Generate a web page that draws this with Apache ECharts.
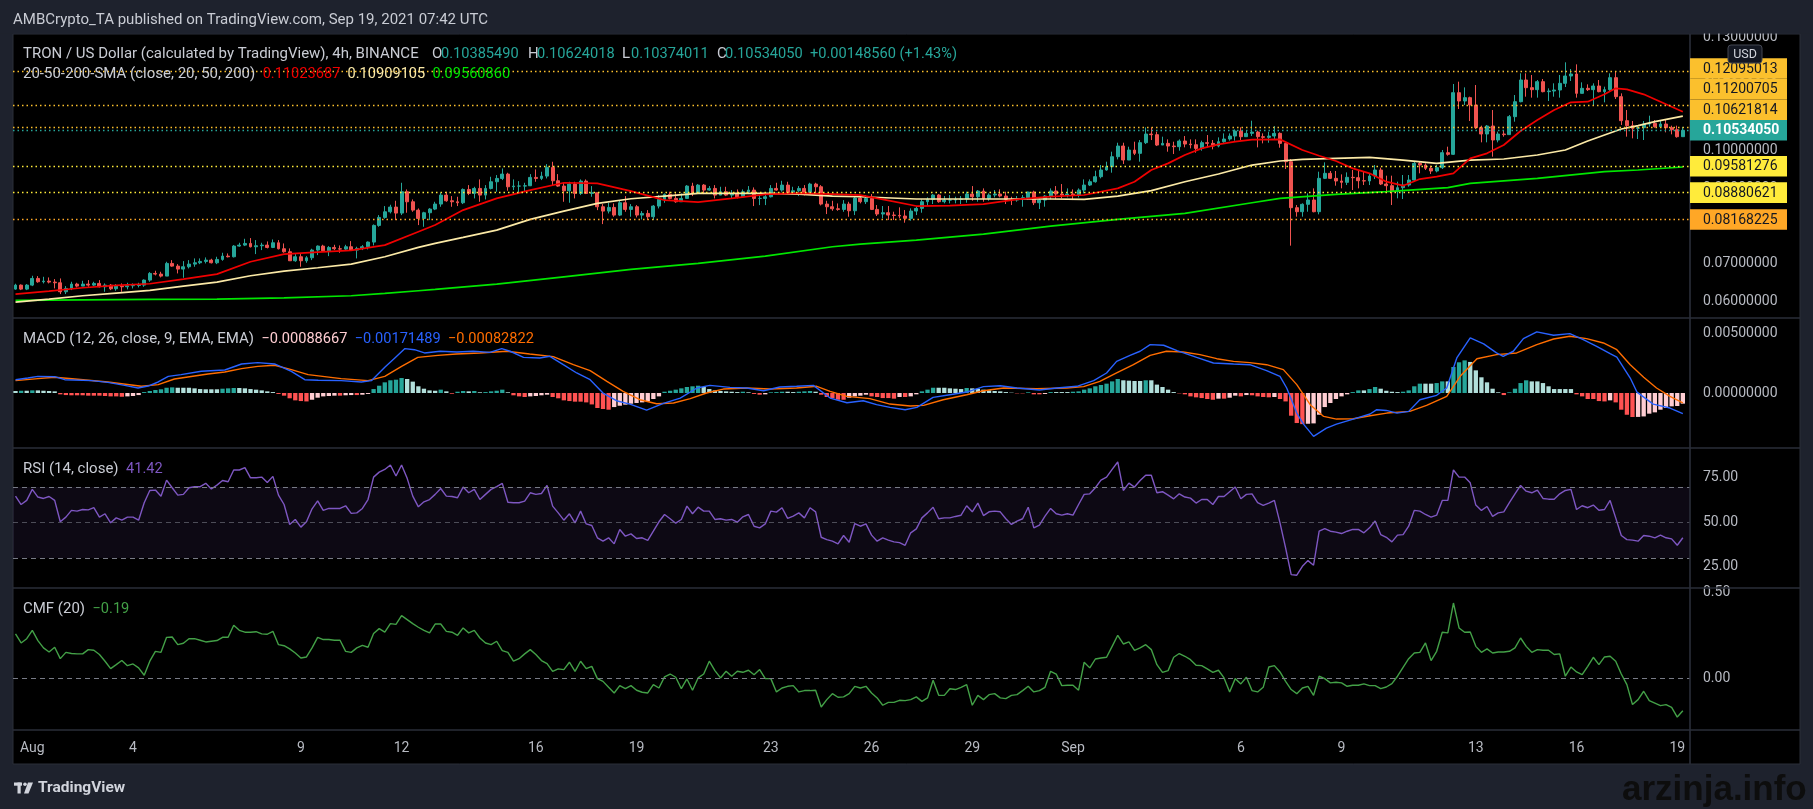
<!DOCTYPE html>
<html><head><meta charset="utf-8">
<script src="https://cdn.jsdelivr.net/npm/echarts@6/dist/echarts.min.js"></script>
<style>html,body{margin:0;padding:0;background:#1e222d;}#c{width:1813px;height:809px;}</style>
</head><body><div id="c"></div>
<script>
// ---------- DATA (4h candles, index 0 = Jul 31 12:00 UTC, index 298 = Sep 19 04:00 UTC) ----------
const firstOpen = 0.06323;
const closes = [
0.06429,0.06323,0.06429,0.06606,0.06518,0.06535,0.06509,0.06491,0.06253,0.06341,
0.06456,0.06403,0.06456,0.06429,0.06474,0.06385,0.06429,0.06332,0.06403,0.06385,
0.06412,0.06421,0.06429,0.06562,0.06739,0.06721,0.06668,0.07004,0.06933,0.06854,
0.06916,0.06986,0.07022,0.07057,0.07092,0.07022,0.07110,0.07198,0.07181,0.07464,
0.07490,0.07534,0.07446,0.07473,0.07490,0.07428,0.07552,0.07393,0.07313,0.07075,
0.07181,0.07075,0.07154,0.07358,0.07464,0.07340,0.07428,0.07393,0.07384,0.07446,
0.07358,0.07402,0.07446,0.07570,0.08012,0.08224,0.08374,0.08498,0.08339,0.08905,
0.08639,0.08418,0.08197,0.08348,0.08445,0.08578,
0.08816,0.08666,0.08639,0.08613,0.08966,0.08860,0.08993,0.08816,0.08993,0.09170,
0.09258,0.09373,0.09037,0.09055,0.09055,0.09064,0.09285,0.09258,0.09320,0.09550,
0.09196,0.09055,0.08931,0.09108,0.08860,0.09187,0.08860,0.08878,0.08507,0.08392,
0.08489,0.08286,0.08613,0.08436,0.08507,0.08286,0.08330,0.08242,0.08525,0.08701,
0.08834,0.08728,0.08639,0.08728,0.09055,0.08860,0.09081,0.08949,0.08993,0.08816,
0.08905,0.08816,0.08860,0.08772,0.08905,0.08949,0.08728,0.08728,0.08772,0.08993,
0.08949,0.09081,0.08878,0.08931,0.08993,0.08878,0.09108,0.09037,0.08578,0.08507,
0.08454,0.08436,0.08578,0.08401,0.08737,
0.08641,0.08729,0.08437,0.08314,0.08349,0.08287,0.08278,0.08261,0.08199,0.08393,
0.08464,0.08641,0.08703,0.08818,0.08641,0.08685,0.08685,0.08703,0.08712,0.08844,
0.08773,0.08924,0.08729,0.08818,0.08844,0.08791,0.08703,0.08685,0.08712,0.08747,
0.08897,0.08614,0.08685,0.08791,0.08924,0.08844,0.08818,0.08844,0.08818,0.08950,
0.09083,0.09171,0.09304,0.09481,0.09569,0.09834,0.10117,0.09746,0.10011,0.09923,
0.10206,0.10435,0.10418,0.10143,0.10188,0.10117,0.10100,0.10250,0.10170,0.10152,
0.10055,0.10206,0.10188,0.10117,0.10232,0.10303,0.10382,0.10515,0.10365,0.10453,
0.10488,0.10365,0.10347,0.10382,0.10453,
0.10188,0.09702,0.08482,0.08376,0.08571,0.08686,0.08376,0.09260,0.09393,
0.09260,0.09190,0.09154,0.09287,0.09278,0.09198,0.09190,0.09322,0.09481,0.09110,
0.09066,0.08907,0.09013,0.09083,0.09216,0.09658,0.09614,0.09525,0.09455,0.09543,
0.09941,0.09897,0.11532,0.11311,0.11400,0.11205,0.10604,0.10436,0.10648,0.10277,
0.10436,0.10420,0.10896,0.11293,0.11868,0.11665,0.11612,0.11824,0.11559,0.11576,
0.11603,0.11780,0.11974,0.12027,0.11514,0.11647,0.11612,0.11709,0.11559,0.11612,
0.11930,0.11426,0.10790,0.10657,0.10586,0.10604,0.10701,0.10719,0.10630,0.10701,
0.10604,0.10551,0.10365,0.10534050
];
const highs = [
0.06465,0.06447,0.06456,0.06677,0.06668,0.06650,0.06633,0.06589,0.06606,0.06403,
0.06518,0.06491,0.06544,0.06562,0.06518,0.06562,0.06474,0.06456,0.06456,0.06474,
0.06491,0.06474,0.06491,0.06580,0.06774,0.06810,0.06783,0.07048,0.07092,0.06986,
0.07066,0.07092,0.07137,0.07137,0.07163,0.07128,0.07181,0.07287,0.07269,0.07490,
0.07552,0.07658,0.07676,0.07623,0.07552,0.07587,0.07640,0.07623,0.07534,0.07402,
0.07252,0.07252,0.07198,0.07393,0.07481,0.07499,0.07464,0.07499,0.07481,0.07499,
0.07596,0.07446,0.07490,0.07587,0.08038,0.08286,0.08525,0.08560,0.08666,0.09143,
0.08966,0.08701,0.08463,0.08374,0.08471,0.08639,
0.08878,0.08905,0.08790,0.08772,0.08993,0.09081,0.09037,0.09232,0.09081,0.09302,
0.09347,0.09523,0.09408,0.09232,0.09187,0.09143,0.09373,0.09497,0.09435,0.09638,
0.09700,0.09373,0.09143,0.09170,0.09170,0.09232,0.09232,0.09055,0.08878,0.08578,
0.08613,0.08595,0.08666,0.08790,0.08578,0.08551,0.08392,0.08418,0.08551,0.08816,
0.08860,0.08905,0.08860,0.08860,0.09081,0.09143,0.09108,0.09108,0.09055,0.09081,
0.09037,0.09037,0.08949,0.08966,0.08966,0.09055,0.09020,0.08816,0.08843,0.09081,
0.09143,0.09196,0.09170,0.09037,0.09055,0.09081,0.09143,0.09143,0.09081,0.08666,
0.08666,0.08595,0.08684,0.08639,0.08772,
0.08818,0.08818,0.08844,0.08552,0.08526,0.08526,0.08376,0.08491,0.08420,0.08464,
0.08526,0.08703,0.08756,0.08844,0.08844,0.08791,0.08818,0.08773,0.08791,0.08906,
0.09056,0.08950,0.08994,0.08862,0.08950,0.08968,0.08906,0.08773,0.08791,0.08818,
0.08906,0.08933,0.08729,0.08818,0.08994,0.09056,0.09109,0.08994,0.08968,0.08994,
0.09233,0.09233,0.09463,0.09613,0.09702,0.09967,0.10205,0.10205,0.10099,0.10232,
0.10276,0.10612,0.10612,0.10497,0.10365,0.10294,0.10232,0.10294,0.10382,0.10294,
0.10294,0.10259,0.10409,0.10276,0.10347,0.10453,0.10453,0.10559,0.10612,0.10524,
0.10789,0.10524,0.10453,0.10497,0.10647,
0.10480,0.10215,0.09773,0.08553,0.08597,0.08862,0.08995,0.09437,0.09685,
0.09455,0.09455,0.09366,0.09419,0.09481,0.09481,0.09455,0.09393,0.09614,0.09543,
0.09331,0.09331,0.09172,0.09349,0.09349,0.09720,0.09720,0.09658,0.09596,0.09614,
0.10012,0.10100,0.11762,0.11824,0.11673,0.11426,0.11735,0.10657,0.10675,0.11072,
0.10498,0.10542,0.10940,0.11470,0.12045,0.12045,0.12001,0.11868,0.11895,0.11647,
0.11780,0.12001,0.12337,0.12160,0.12283,0.11806,0.11753,0.11780,0.11868,0.11691,
0.12045,0.12107,0.11514,0.11072,0.10781,0.10675,0.10781,0.10922,0.10807,0.10807,
0.10807,0.10657,0.10657,0.10624018
];
const lows = [
0.06306,0.06297,0.06297,0.06403,0.06491,0.06474,0.06474,0.06341,0.06191,0.06191,
0.06297,0.06368,0.06403,0.06385,0.06403,0.06368,0.06253,0.06297,0.06279,0.06253,
0.06315,0.06341,0.06368,0.06385,0.06518,0.06686,0.06633,0.06695,0.06916,0.06739,
0.06624,0.06871,0.06916,0.06986,0.07004,0.07004,0.06986,0.07075,0.07163,0.07163,
0.07446,0.07464,0.07428,0.07252,0.07358,0.07402,0.07411,0.07375,0.07287,0.07075,
0.07048,0.06916,0.07022,0.07092,0.07225,0.07313,0.07198,0.07358,0.07287,0.07358,
0.07340,0.07137,0.07358,0.07375,0.07481,0.07976,0.08189,0.08330,0.08153,0.08286,
0.08348,0.08374,0.08021,0.07976,0.08153,0.08418,
0.08507,0.08639,0.08507,0.08525,0.08578,0.08816,0.08728,0.08639,0.08701,0.08966,
0.08905,0.09214,0.08931,0.08949,0.08878,0.08905,0.09055,0.09170,0.09214,0.09258,
0.09081,0.09037,0.08639,0.08613,0.08728,0.08816,0.08843,0.08772,0.08418,0.08047,
0.08330,0.08242,0.08259,0.08374,0.08242,0.08224,0.08171,0.08153,0.08153,0.08463,
0.08613,0.08701,0.08613,0.08639,0.08728,0.08790,0.08905,0.08843,0.08931,0.08728,
0.08816,0.08790,0.08728,0.08728,0.08790,0.08843,0.08525,0.08551,0.08551,0.08754,
0.08931,0.08905,0.08860,0.08843,0.08790,0.08807,0.08878,0.08878,0.08542,0.08313,
0.08401,0.08401,0.08374,0.08242,0.08286,
0.08597,0.08579,0.08420,0.08261,0.08199,0.08155,0.08155,0.08199,0.08084,0.08137,
0.08287,0.08349,0.08526,0.08579,0.08614,0.08597,0.08597,0.08597,0.08579,0.08614,
0.08667,0.08641,0.08641,0.08667,0.08756,0.08756,0.08579,0.08552,0.08641,0.08508,
0.08685,0.08552,0.08446,0.08508,0.08703,0.08703,0.08729,0.08756,0.08685,0.08756,
0.08862,0.09056,0.09145,0.09260,0.09463,0.09410,0.09763,0.09640,0.09746,0.09878,
0.09702,0.10170,0.10276,0.10117,0.10144,0.09967,0.09905,0.09993,0.10082,0.10055,
0.09940,0.09993,0.10082,0.10029,0.10082,0.10205,0.10259,0.10259,0.10276,0.10365,
0.10382,0.10082,0.10188,0.10205,0.10294,
0.10073,0.09508,0.07475,0.08244,0.08244,0.08376,0.08359,0.08306,0.09242,
0.09242,0.09066,0.08995,0.09083,0.08951,0.08995,0.09083,0.09083,0.09242,0.09083,
0.08889,0.08553,0.08730,0.08712,0.09039,0.09172,0.09393,0.09481,0.09375,0.09419,
0.09508,0.09861,0.09879,0.11099,0.11205,0.10781,0.10569,0.10215,0.10215,0.09835,
0.10215,0.10365,0.10409,0.10763,0.11276,0.11426,0.11400,0.11400,0.11541,0.11311,
0.11426,0.11400,0.11682,0.11842,0.11400,0.11541,0.11576,0.11187,0.11541,0.11276,
0.11576,0.11364,0.10675,0.10365,0.10321,0.10303,0.10277,0.10630,0.10604,0.10604,
0.10480,0.10427,0.10339,0.10374011
];
// moving averages, read at sampled candle indices: [index, value]
const sma20 = [[0,0.06191],[6,0.06270],[12,0.06359],[18,0.06421],[24,0.06465],[30,0.06589],[36,0.06721],[42,0.07048],[48,0.07252],[54,0.07305],[60,0.07349],[66,0.07490],[72,0.07844],[75,0.08021],[80,0.08418],[86,0.08728],[92,0.08949],[98,0.09143],[104,0.09126],[110,0.08922],[116,0.08684],[122,0.08631],[128,0.08728],[134,0.08834],[140,0.08869],[146,0.08843],[151,0.08816],[155,0.08703],[161,0.08526],[167,0.08535],[173,0.08579],[179,0.08703],[185,0.08773],[191,0.08818],[197,0.08994],[200,0.09171],[203,0.09481],[206,0.09657],[209,0.09878],[212,0.10055],[215,0.10161],[218,0.10232],[221,0.10285],[226,0.10294],[230,0.10012],[233,0.09861],[236,0.09720],[239,0.09525],[242,0.09393],[245,0.09172],[248,0.09066],[251,0.09242],[254,0.09304],[257,0.09393],[260,0.09791],[263,0.09923],[266,0.10144],[269,0.10516],[272,0.10807],[275,0.11072],[278,0.11276],[281,0.11293],[284,0.11488],[286,0.11647],[288,0.11620],[291,0.11488],[295,0.11223],[298,0.11023687]];
const sma50 = [[0,0.05979],[6,0.06058],[12,0.06147],[18,0.06217],[24,0.06288],[30,0.06403],[36,0.06509],[42,0.06677],[48,0.06801],[54,0.06889],[60,0.06986],[66,0.07181],[72,0.07428],[75,0.07534],[80,0.07694],[86,0.07888],[92,0.08171],[98,0.08392],[104,0.08595],[110,0.08719],[116,0.08790],[122,0.08860],[128,0.08860],[134,0.08860],[140,0.08843],[146,0.08790],[151,0.08772],[161,0.08712],[173,0.08712],[185,0.08712],[191,0.08703],[197,0.08791],[203,0.08933],[209,0.09171],[215,0.09375],[221,0.09613],[226,0.09720],[230,0.09764],[236,0.09791],[242,0.09817],[248,0.09746],[254,0.09658],[260,0.09746],[266,0.09773],[272,0.09879],[277,0.10012],[281,0.10250],[284,0.10409],[287,0.10569],[290,0.10657],[293,0.10763],[298,0.10909105]];
const sma200 = [[0,0.06023],[12,0.06040],[24,0.06049],[36,0.06058],[48,0.06093],[60,0.06147],[66,0.06208],[72,0.06279],[75,0.06315],[86,0.06456],[98,0.06650],[110,0.06845],[122,0.07004],[134,0.07198],[146,0.07446],[151,0.07517],[161,0.07624],[173,0.07783],[185,0.07995],[197,0.08172],[209,0.08331],[221,0.08614],[226,0.08729],[236,0.08836],[245,0.08907],[256,0.09013],[260,0.09127],[272,0.09260],[284,0.09437],[290,0.09481],[298,0.09560860]];
// MACD (12,26,9): lines read at sampled indices, histogram per candle
const macdLine = [[0,0.00111],[2.2,0.00125],[4,0.00139],[7,0.00136],[8.8,0.00111],[13.6,0.00103],[16.5,0.00089],[19.5,0.00064],[21.9,0.00042],[23.7,0.00058],[25.5,0.00092],[27.3,0.00139],[29.6,0.00153],[33.2,0.00181],[37.4,0.00192],[40.4,0.00242],[43.3,0.00253],[46.3,0.00242],[49.3,0.00181],[51.7,0.00111],[54.1,0.00106],[58.2,0.00103],[61.8,0.00092],[63.6,0.00103],[66,0.00214],[67.8,0.00292],[69.6,0.00370],[71.3,0.00361],[73.1,0.00334],[75.9,0.00348],[78.9,0.00342],[81.8,0.00348],[84.8,0.00339],[86.9,0.00370],[88.4,0.00348],[90.8,0.00297],[93.7,0.00292],[95.5,0.00306],[97.9,0.00236],[100.3,0.00167],[102.7,0.00111],[105,0],[107.4,-0.00064],[109.8,-0.00092],[112.8,-0.00142],[115.8,-0.00086],[118.8,-0.00042],[121.8,0.00042],[124.1,0.00064],[127.7,0.00047],[130.7,0.00042],[133.7,0.00019],[136.6,0.00050],[139.6,0.00056],[142.6,0.00064],[145.6,-0.00042],[148.6,-0.00081],[151.5,-0.00064],[153.9,-0.00097],[156.3,-0.00120],[159,-0.00139],[161.1,-0.00120],[164,-0.00036],[167,-0.00014],[170,0.00008],[173,0.00053],[176,0.00061],[179,0.00042],[183,0.00025],[186.1,0.00042],[189.7,0.00056],[192.7,0.00103],[195,0.00167],[196.8,0.00264],[199.2,0.00314],[201,0.00348],[202.8,0.00403],[205.2,0.00398],[207.6,0.00353],[211.1,0.00297],[214.1,0.00250],[217.7,0.00242],[220.6,0.00236],[223.6,0.00186],[226,0.00139],[227.2,0.00042],[229,-0.00167],[230.2,-0.00259],[232,-0.00361],[234.3,-0.00292],[236.1,-0.00259],[239.1,-0.00217],[242.1,-0.00175],[243.3,-0.00139],[245,-0.00145],[246.9,-0.00167],[249,-0.00153],[251,-0.00056],[254,-0.00019],[255.8,0.00042],[257.6,0.00292],[260,0.00459],[262.4,0.00409],[264.7,0.00334],[265.9,0.00306],[267.7,0.00348],[269.5,0.00453],[271.9,0.00509],[274.9,0.00481],[277.8,0.00495],[280.2,0.00445],[282.6,0.00389],[285,0.00328],[286.2,0.00300],[288.6,0.00125],[289.8,0.00008],[292.7,-0.00092],[295.7,-0.00125],[298,-0.00171489]];
const signalLine = [[0,0.00103],[4,0.00120],[7,0.00131],[10.6,0.00117],[16.5,0.00092],[22.5,0.00056],[25.5,0.00070],[28.4,0.00117],[34.4,0.00158],[37.4,0.00175],[40.4,0.00203],[43.3,0.00222],[46.3,0.00231],[49.3,0.00195],[52.3,0.00153],[58.2,0.00120],[63,0.00103],[66,0.00139],[69,0.00222],[71.9,0.00297],[75.5,0.00314],[78.8,0.00325],[83,0.00334],[87.8,0.00348],[91.9,0.00325],[96.1,0.00303],[99.7,0.00236],[102.7,0.00186],[105.7,0.00097],[108.6,0.00014],[111.6,-0.00056],[114.6,-0.00089],[117.6,-0.00083],[120.6,-0.00047],[123.5,0],[126.5,0.00033],[130.7,0.00042],[134.8,0.00033],[139.6,0.00042],[143.2,0.00056],[145.6,0.00014],[148.6,-0.00028],[152.7,-0.00047],[156.3,-0.00092],[159.9,-0.00108],[162.3,-0.00103],[165.8,-0.00056],[170,-0.00014],[173,0.00019],[176.6,0.00042],[182.5,0.00036],[187.9,0.00042],[190.9,0.00053],[193.8,0.00097],[196.8,0.00167],[199.8,0.00236],[202.8,0.00314],[205.7,0.00348],[208.7,0.00342],[211.7,0.00320],[214.7,0.00286],[217.7,0.00264],[220.6,0.00253],[223.6,0.00236],[226.6,0.00195],[229,0.00070],[231.4,-0.00097],[233.8,-0.00195],[236.1,-0.00217],[239.1,-0.00214],[242.1,-0.00189],[245.1,-0.00167],[249.2,-0.00153],[252.2,-0.00103],[255.8,-0.00028],[258.2,0.00139],[261.2,0.00286],[264.7,0.00320],[268.3,0.00334],[271.9,0.00403],[274.9,0.00450],[277.8,0.00473],[280.8,0.00453],[283.8,0.00417],[286.2,0.00361],[288.6,0.00236],[291,0.00131],[293.3,0.00042],[295.7,-0.00028],[298,-0.00082822]];
const macdHist = [
0.00017,0.00019,0.00019,0.00022,0.00022,0.00019,0.00017,0.00014,
-0.00011,-0.00017,-0.00019,-0.00019,-0.00019,-0.00022,-0.00022,-0.00022,-0.00025,-0.00028,-0.00028,-0.00031,-0.00028,-0.00025,-0.00017,
0.00008,0.00017,0.00025,0.00031,0.00044,0.00047,0.00044,0.00044,0.00044,0.00039,0.00033,0.00031,0.00031,0.00031,0.00036,0.00039,0.00042,0.00042,0.00039,0.00033,0.00028,0.00022,0.00014,0.00008,
-0.00008,-0.00022,-0.00044,-0.00061,-0.00067,-0.00070,-0.00056,-0.00039,-0.00028,-0.00025,-0.00022,-0.00022,-0.00019,-0.00017,-0.00017,-0.00014,-0.00008,
0.00033,0.00061,0.00089,0.00106,0.00111,0.00125,0.00117,0.00095,0.00056,0.00036,0.00022,0.00019,
0.00028,0.00014,-0.00006,0.00011,0.00017,0.00014,0.00017,0.00006,0.00008,0.00014,0.00019,0.00028,0.00006,
-0.00019,-0.00028,-0.00033,-0.00028,-0.00025,-0.00019,-0.00014,-0.00033,-0.00044,-0.00061,-0.00067,-0.00072,-0.00072,-0.00078,-0.00095,-0.00125,-0.00133,-0.00139,-0.00117,-0.00106,-0.00097,-0.00089,-0.00083,-0.00078,-0.00070,-0.00050,-0.00028,
0.00011,0.00019,0.00028,0.00039,0.00050,0.00056,0.00061,0.00050,0.00033,0.00022,0.00017,0.00014,0.00011,0.00008,0.00011,0.00006,-0.00008,-0.00014,-0.00011,0.00006,0.00008,0.00011,0.00011,0.00008,0.00011,0.00014,0.00017,0.00011,-0.00014,-0.00033,-0.00044,-0.00056,-0.00056,-0.00039,
-0.00028,-0.00022,-0.00014,-0.00028,-0.00033,-0.00042,-0.00042,-0.00047,-0.00033,-0.00033,-0.00028,-0.00011,0.00014,0.00028,0.00044,0.00044,0.00044,0.00039,0.00036,0.00033,0.00042,0.00039,0.00036,0.00028,0.00022,0.00017,0.00014,0.00008,0.00003,-0.00003,-0.00003,0.00006,-0.00011,-0.00011,-0.00008,0.00008,0.00008,0.00008,0.00008,0.00011,0.00014,0.00028,0.00039,0.00056,0.00067,0.00078,0.00097,0.00117,0.00106,0.00103,0.00100,0.00100,0.00106,0.00106,0.00070,0.00050,0.00028,0.00008,-0.00003,-0.00011,-0.00028,-0.00036,-0.00042,-0.00050,-0.00056,-0.00047,-0.00047,-0.00039,-0.00022,-0.00028,-0.00017,-0.00019,-0.00028,-0.00033,-0.00036,-0.00033,-0.00050,
-0.00070,-0.00189,-0.00250,-0.00259,-0.00256,-0.00253,-0.00181,-0.00117,-0.00083,-0.00050,-0.00028,-0.00011,0.00008,0.00022,0.00022,0.00033,0.00050,0.00036,0.00019,0.00011,0.00008,0.00011,0.00022,0.00056,0.00078,0.00078,0.00078,0.00083,0.00097,0.00097,0.00217,0.00256,0.00272,0.00259,0.00189,0.00131,0.00089,0.00036,0.00006,-0.00017,0.00006,0.00036,0.00083,0.00106,0.00097,0.00097,0.00083,0.00056,0.00033,0.00033,0.00033,0.00033,-0.00011,-0.00028,-0.00050,-0.00050,-0.00067,-0.00070,-0.00061,-0.00078,-0.00139,-0.00181,-0.00200,-0.00199,-0.00195,-0.00172,-0.00161,-0.00139,-0.00125,-0.00111,-0.00108,-0.00088667
];
const rsi = [
64.8,60.1,62.4,68.6,64.3,63.5,64.6,62.4,50.4,53.0,56.8,56.4,57.3,57.1,58.3,53.0,54.9,49.8,52.6,51.3,
53.0,53.0,51.3,61.1,68.0,68.2,64.8,73.8,69.5,65.4,65.8,69.5,70.1,70.1,72.0,68.8,71.0,73.6,72.9,79.5,
79.5,80.8,75.1,75.1,75.5,72.5,75.9,65.4,60.1,48.9,51.7,47.4,50.4,57.7,62.2,56.8,57.9,57.9,57.9,59.4,
55.1,55.4,57.9,62.9,75.5,78.3,79.8,82.3,76.1,82.3,74.8,64.8,58.8,61.6,62.9,65.8,
69.1,64.8,64.6,63.9,69.9,66.7,68.6,62.9,65.8,68.6,70.1,72.0,61.4,61.1,61.1,62.0,66.7,65.8,66.3,70.8,
59.2,55.4,51.3,54.9,49.8,56.4,49.2,48.3,41.4,39.5,41.4,38.0,46.1,42.3,43.6,41.0,41.4,39.9,45.1,50.4,
54.5,52.1,49.6,51.7,59.2,54.9,58.6,56.4,56.4,51.7,52.1,51.3,51.7,50.2,53.2,54.5,47.9,47.0,49.2,56.4,
55.8,58.3,52.3,53.6,55.4,52.6,58.3,56.0,41.7,40.4,39.5,38.0,42.7,38.9,49.4,47.9,
49.2,42.9,39.5,41.4,40.1,39.1,38.7,37.2,44.2,46.4,52.6,55.4,58.6,52.1,52.6,52.6,53.4,54.1,59.4,56.0,
60.9,53.9,56.0,56.4,56.0,52.1,48.9,50.8,52.1,58.6,47.0,48.5,53.6,57.9,54.9,54.1,54.9,54.1,60.1,65.8,
66.1,69.5,73.8,75.5,79.8,84.0,68.0,72.1,69.9,73.6,76.6,76.5,66.7,67.3,65.4,63.3,66.1,64.3,63.7,60.9,
62.9,62.9,60.1,64.6,64.6,67.3,69.9,63.3,65.8,66.1,61.1,59.6,60.9,62.4,49.8,
35.7,20.7,20.4,25.4,28.6,26.0,45.1,46.6,45.1,44.6,43.8,45.1,46.1,46.1,44.2,47.0,50.8,43.2,41.7,39.1,
42.9,43.2,47.9,56.8,56.4,54.5,53.0,54.1,62.4,62.4,79.5,75.5,75.5,72.3,59.8,56.8,59.0,53.4,55.4,56.0,
61.1,66.1,70.8,67.6,66.7,68.2,63.5,63.1,63.1,66.1,68.0,68.6,57.3,59.4,58.3,59.8,56.9,57.3,62.4,52.6,
42.7,40.4,40.1,39.5,42.7,42.3,41.4,42.9,41.4,40.8,37.2,41.42
];
const cmf = [
0.260,0.207,0.232,0.281,0.221,0.178,0.154,0.182,0.115,0.152,0.145,0.143,0.143,0.168,0.164,0.139,0.100,0.057,0.080,0.104,
0.074,0.084,0.061,0.018,0.100,0.158,0.152,0.240,0.242,0.197,0.205,0.232,0.232,0.223,0.213,0.217,0.221,0.240,0.240,0.311,
0.281,0.270,0.270,0.273,0.260,0.258,0.275,0.197,0.191,0.172,0.148,0.119,0.125,0.178,0.240,0.227,0.227,0.223,0.223,0.158,
0.152,0.178,0.193,0.182,0.262,0.291,0.270,0.320,0.316,0.367,0.344,0.320,0.299,0.281,0.266,0.318,
0.318,0.275,0.270,0.252,0.295,0.266,0.281,0.236,0.207,0.197,0.217,0.162,0.152,0.100,0.115,0.143,0.168,0.139,0.104,0.086,
0.041,0.055,0.051,0.094,0.041,0.100,0.057,0.070,-0.002,-0.018,-0.053,-0.086,-0.043,-0.061,-0.043,-0.070,-0.082,-0.086,-0.037,-0.057,
0.008,0.025,0.006,-0.061,-0.004,-0.070,0.002,0.025,0.100,0.045,0.002,0.041,0.012,0.041,0.035,0.047,0.021,0.051,-0.002,-0.002,
-0.080,-0.057,-0.047,-0.043,-0.080,-0.072,-0.072,-0.070,-0.168,-0.125,-0.090,-0.111,-0.109,-0.090,-0.047,-0.057,
-0.047,-0.086,-0.115,-0.158,-0.141,-0.141,-0.129,-0.131,-0.125,-0.109,-0.135,-0.115,-0.012,-0.100,-0.100,-0.061,-0.066,-0.053,-0.037,-0.158,
-0.100,-0.125,-0.096,-0.090,-0.115,-0.119,-0.100,-0.096,-0.072,-0.047,-0.080,-0.072,-0.053,0.041,0.025,-0.043,-0.041,-0.041,-0.070,0.094,
0.061,0.113,0.119,0.123,0.187,0.252,0.201,0.213,0.164,0.178,0.197,0.168,0.080,0.035,0.045,0.123,0.145,0.129,0.109,0.076,
0.074,0.055,0.035,0.047,0.002,-0.080,-0.002,-0.033,0.006,-0.072,-0.080,-0.053,0.066,0.074,0.037,
-0.018,-0.066,-0.090,-0.057,-0.047,-0.100,0.012,-0.002,-0.027,-0.023,-0.027,-0.047,-0.041,-0.041,-0.033,-0.043,-0.043,-0.061,-0.051,-0.031,
0.012,0.064,0.115,0.148,0.152,0.207,0.104,0.158,0.270,0.266,0.441,0.295,0.270,0.271,0.187,0.152,0.172,0.148,0.154,0.154,
0.158,0.178,0.236,0.187,0.152,0.168,0.164,0.164,0.139,0.143,0.012,0.066,0.037,0.021,0.070,0.123,0.080,0.125,0.129,0.100,
0.025,-0.037,-0.154,-0.125,-0.076,-0.131,-0.145,-0.160,-0.154,-0.170,-0.227,-0.190
];
// horizontal price levels drawn on the chart and the last price
const levelPrices = [0.12095013, 0.11200705, 0.10621814, 0.09581276, 0.08880621, 0.08168225];
const currentPrice = 0.10534050;
// tick labels
const priceTicks = [0.06, 0.07, 0.08, 0.09, 0.10, 0.11, 0.12, 0.13];
const macdTicks = [0, 0.005];
const rsiTicks = [25, 50, 75];
const cmfTicks = [0, 0.5];
const rsiBands = [30, 50, 70];
const xTickDays = [0, 3, 8, 11, 15, 18, 22, 25, 28, 31, 36, 39, 43, 46, 49]; // days after Aug 1
const xTickText = ['Aug', '4', '9', '12', '16', '19', '23', '26', '29', 'Sep', '6', '9', '13', '16', '19'];
// legend texts
const titleText = 'AMBCrypto_TA published on TradingView.com, Sep 19, 2021 07:42 UTC';
const symbolText = 'TRON / US Dollar (calculated by TradingView), 4h, BINANCE';
const ohlcKeys = ['O', 'H', 'L', 'C'];
const ohlcText = ['0.10385490', '0.10624018', '0.10374011', '0.10534050'];
const changeText = '+0.00148560 (+1.43%)';
const smaLegend = ['0.11023687', '0.10909105', '0.09560860'];
const macdLegend = ['\u22120.00088667', '\u22120.00171489', '\u22120.00082822'];
const rsiLegend = '41.42';
const cmfLegend = '\u22120.19';

// ---------- STYLE / LAYOUT ----------
const levelColors = ['#fbc02d', '#fbc02d', '#fbc02d', '#ffeb3b', '#ffeb3b', '#ffa726'];
const FONT = "Roboto, 'Liberation Sans', Arial, sans-serif";
const AX = '#b7bac2';
const TXT = '#c9ccd4';
const XMIN = -0.45, XMAX = 299.28;
const LBL = '15px ' + FONT, NUM = '14.6px ' + FONT;
const ohlcKeyX = [432, 528, 622, 717], ohlcValX = [441, 537, 631, 725], changeX = 810;

const chart = echarts.init(document.getElementById('c'), null, {width: 1813, height: 809});

const candles = closes.map((c, i) => {
  const o = i === 0 ? firstOpen : closes[i - 1];
  return [i, o, c, Math.min(lows[i], o, c), Math.max(highs[i], o, c)];
});
const histData = macdHist.map((v, i) => {
  const prev = i === 0 ? v : macdHist[i - 1];
  const color = v >= 0 ? (prev < v ? '#26a69a' : '#b2dfdb') : (prev < v ? '#ffcdd2' : '#ff5252');
  return {value: [i, v], itemStyle: {color}};
});
const tickIdx = xTickDays.map(d => 6 * d + 3);

const gridTops = [34, 318, 448, 588];
const gridHeights = [284, 130, 140, 142];
const grids = gridTops.map((t, k) => ({left: 13, right: 123, top: t, height: gridHeights[k], containLabel: false}));
const xAxes = grids.map((g, k) => ({
  type: 'value', gridIndex: k, min: XMIN, max: XMAX,
  axisLine: {show: false}, axisTick: {show: false}, splitLine: {show: false},
  axisLabel: k === 3 ? {
    show: true, customValues: tickIdx, color: AX, fontSize: 14, fontFamily: FONT, margin: 11,
    formatter: v => { const j = tickIdx.indexOf(Math.round(v)); return j >= 0 ? xTickText[j] : ''; }
  } : {show: false}
}));
function yAx(k, min, max, ticks, dec) {
  return {
    type: 'value', gridIndex: k, position: 'right', min, max, scale: true,
    axisLine: {show: false}, axisTick: {show: false}, splitLine: {show: false},
    axisLabel: {show: true, customValues: ticks, color: AX, fontSize: 14, fontFamily: FONT, margin: 13,
      formatter: v => Number(v).toFixed(dec)}
  };
}
const yAxes = [
  yAx(0, 0.05557, 0.13088, priceTicks, 8),
  yAx(1, -0.00458, 0.00625, macdTicks, 8),
  yAx(2, 13.2, 91.85, rsiTicks, 2),
  yAx(3, -0.303, 0.529, cmfTicks, 2)
];

const dashed = {type: [5, 4], color: '#787b86', width: 1};
const option = {
  animation: false,
  backgroundColor: 'transparent',
  grid: grids, xAxis: xAxes, yAxis: yAxes,
  series: [
    {
      type: 'candlestick', xAxisIndex: 0, yAxisIndex: 0, data: candles, barWidth: 3.4,
      encode: {x: 0, y: [1, 2, 3, 4]},
      itemStyle: {color: '#26a69a', color0: '#ef5350', borderColor: '#26a69a', borderColor0: '#ef5350', borderWidth: 1},
      markLine: {
        silent: true, symbol: ['none', 'none'], label: {show: false}, animation: false, precision: 8,
        data: levelPrices.map((p, k) => ({yAxis: p, lineStyle: {color: levelColors[k], type: [1.5, 3], width: 1.3}}))
          .concat([{yAxis: currentPrice, lineStyle: {color: '#26a69a', type: [1.5, 3], width: 1.3}}])
      },
      z: 3
    },
    {type: 'line', xAxisIndex: 0, yAxisIndex: 0, data: sma200, showSymbol: false, lineStyle: {color: '#00e600', width: 1.7}, z: 4},
    {type: 'line', xAxisIndex: 0, yAxisIndex: 0, data: sma50, showSymbol: false, lineStyle: {color: '#fbe9a6', width: 1.7}, z: 4},
    {type: 'line', xAxisIndex: 0, yAxisIndex: 0, data: sma20, showSymbol: false, lineStyle: {color: '#f00000', width: 1.7}, z: 4},
    {type: 'bar', xAxisIndex: 1, yAxisIndex: 1, data: histData, barWidth: 4.3, z: 2},
    {type: 'line', xAxisIndex: 1, yAxisIndex: 1, data: macdLine, showSymbol: false, lineStyle: {color: '#2962ff', width: 1.4}, z: 4},
    {type: 'line', xAxisIndex: 1, yAxisIndex: 1, data: signalLine, showSymbol: false, lineStyle: {color: '#ff6d00', width: 1.4}, z: 3},
    {
      type: 'line', xAxisIndex: 2, yAxisIndex: 2, data: rsi.map((v, i) => [i, v]), showSymbol: false,
      lineStyle: {color: '#7e57c2', width: 1.4}, z: 4,
      markArea: {silent: true, itemStyle: {color: 'rgba(126,87,194,0.1)'}, data: [[{yAxis: rsiBands[0]}, {yAxis: rsiBands[2]}]]},
      markLine: {silent: true, symbol: ['none', 'none'], label: {show: false},
        data: [{yAxis: rsiBands[2], lineStyle: dashed}, {yAxis: rsiBands[1], lineStyle: Object.assign({}, dashed, {color: 'rgba(120,123,134,0.6)'})}, {yAxis: rsiBands[0], lineStyle: dashed}]}
    },
    {
      type: 'line', xAxisIndex: 3, yAxisIndex: 3, data: cmf.map((v, i) => [i, v]), showSymbol: false,
      lineStyle: {color: '#43a047', width: 1.4}, z: 4,
      markLine: {silent: true, symbol: ['none', 'none'], label: {show: false}, data: [{yAxis: 0, lineStyle: dashed}]}
    }
  ]
};
chart.setOption(option);

// ---------- price tags (stacked like TradingView) + frame decorations ----------
const yOf = p => chart.convertToPixel({yAxisIndex: 0}, p);
const TAG_H = 20.6;
const yc = yOf(currentPrice);
const tags = [{p: currentPrice, y: yc, fill: '#26a69a', tc: '#ffffff', fw: 'bold'}];
let prev = yc;
levelPrices.map((p, k) => ({p, k})).filter(o => o.p > currentPrice).sort((a, b) => a.p - b.p).forEach(o => {
  const y = Math.min(yOf(o.p), prev - TAG_H); prev = y;
  tags.push({p: o.p, y, fill: levelColors[o.k], tc: '#131722', fw: 'normal'});
});
prev = yc;
levelPrices.map((p, k) => ({p, k})).filter(o => o.p < currentPrice).sort((a, b) => b.p - a.p).forEach(o => {
  const y = Math.max(yOf(o.p), prev + TAG_H); prev = y;
  tags.push({p: o.p, y, fill: levelColors[o.k], tc: '#131722', fw: 'normal'});
});

const SEP = '#2a2e39';
const g = [];
g.push({type: 'rect', z: -10, silent: true, shape: {x: 13, y: 34, width: 1787, height: 730}, style: {fill: '#000000', stroke: SEP, lineWidth: 1}});
[318, 448, 588, 730].forEach(y => g.push({type: 'line', z: 50, silent: true, shape: {x1: 13, y1: y, x2: 1800, y2: y}, style: {stroke: SEP, lineWidth: 1.6}}));
g.push({type: 'line', z: 50, silent: true, shape: {x1: 1690, y1: 34, x2: 1690, y2: 764}, style: {stroke: SEP, lineWidth: 1.6}});
// header band (also clips the top price label like the original)
g.push({type: 'rect', z: 100, silent: true, shape: {x: 0, y: 0, width: 1813, height: 33.5}, style: {fill: '#1e222d'}});
g.push({type: 'text', z: 101, silent: true, style: {x: 13, y: 20, text: titleText, fill: TXT, font: LBL, verticalAlign: 'middle'}});
// tags
tags.forEach(t => {
  g.push({type: 'rect', z: 110, silent: true, shape: {x: 1690, y: t.y - TAG_H / 2, width: 97, height: TAG_H}, style: {fill: t.fill}});
  g.push({type: 'text', z: 111, silent: true, style: {x: 1703, y: t.y + 0.5, text: t.p.toFixed(8), fill: t.tc, font: t.fw + ' 14px ' + FONT, verticalAlign: 'middle'}});
});
// USD badge
g.push({type: 'rect', z: 120, silent: true, shape: {x: 1728, y: 45, width: 34, height: 18, r: 3}, style: {fill: '#131722', stroke: '#434651', lineWidth: 1}});
g.push({type: 'text', z: 121, silent: true, style: {x: 1745, y: 54.5, text: 'USD', fill: '#d1d4dc', font: '12.5px ' + FONT, align: 'center', verticalAlign: 'middle'}});
// legends
function txt(x, y, text, fill, font) {
  g.push({type: 'text', z: 120, silent: true, style: {x, y, text, fill, font, verticalAlign: 'middle'}});
}
function legend(x, y, parts) {
  const rich = {};
  let text = '';
  parts.forEach((p, k) => { rich['p' + k] = {fill: p[1], color: p[1], font: p[2] || LBL}; text += '{p' + k + '|' + p[0] + '}'; });
  g.push({type: 'text', z: 120, silent: true, style: {x, y, text, rich, font: LBL, verticalAlign: 'middle'}});
}
const UP = '#26a69a';
txt(23, 54, symbolText, TXT, LBL);
ohlcKeys.forEach((k, j) => { txt(ohlcKeyX[j], 54, k, TXT, LBL); txt(ohlcValX[j], 54, ohlcText[j], UP, NUM); });
txt(changeX, 54, changeText, UP, NUM);
legend(23, 74, [['20-50-200-SMA (close, 20, 50, 200)  ', TXT], [smaLegend[0] + '  ', '#f00000', NUM], [smaLegend[1] + '  ', '#fbe9a6', NUM], [smaLegend[2], '#00e600', NUM]]);
legend(23, 339, [['MACD (12, 26, close, 9, EMA, EMA)  ', TXT], [macdLegend[0] + '  ', '#ffcdd2', NUM], [macdLegend[1] + '  ', '#2962ff', NUM], [macdLegend[2], '#ff6d00', NUM]]);
legend(23, 469, [['RSI (14, close)  ', TXT], [rsiLegend, '#7e57c2', NUM]]);
legend(23, 609, [['CMF (20)  ', TXT], [cmfLegend, '#43a047', NUM]]);
// footer: TradingView logo + watermark
g.push({type: 'rect', z: 120, silent: true, shape: {x: 14, y: 782.5, width: 8, height: 3.2}, style: {fill: '#d1d4dc'}});
g.push({type: 'rect', z: 120, silent: true, shape: {x: 17.5, y: 782.5, width: 3.2, height: 11}, style: {fill: '#d1d4dc'}});
g.push({type: 'circle', z: 120, silent: true, shape: {cx: 25, cy: 784.2, r: 1.8}, style: {fill: '#d1d4dc'}});
g.push({type: 'polygon', z: 120, silent: true, shape: {points: [[28, 782.5], [33, 782.5], [28.5, 793.5], [24, 793.5]]}, style: {fill: '#d1d4dc'}});
g.push({type: 'text', z: 120, silent: true, style: {x: 38, y: 788.5, text: 'TradingView', fill: '#d1d4dc', font: 'bold 15.5px ' + FONT, verticalAlign: 'middle'}});
g.push({type: 'text', z: 130, silent: true, style: {x: 1622, y: 790, text: 'arzinja.info', fill: '#0d0d0d', font: 'bold 35px "Liberation Sans", Arial, sans-serif', verticalAlign: 'middle'}});

chart.setOption({graphic: g});
</script>
</body></html>
